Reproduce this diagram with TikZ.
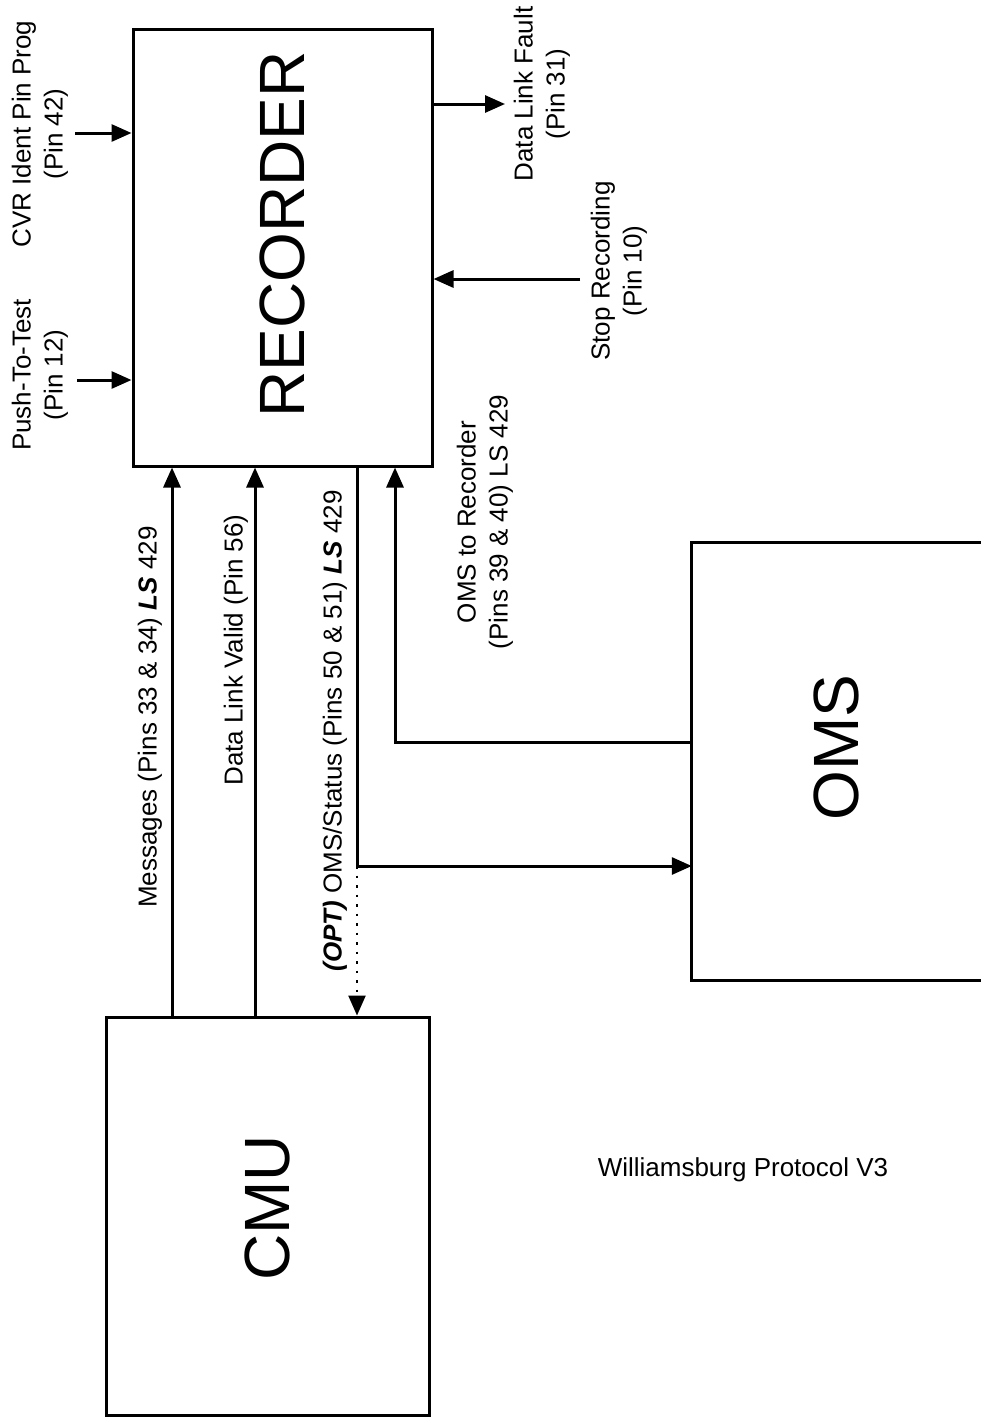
\documentclass[tikz,border=0pt]{standalone}
\usepackage{fontspec}
\setmainfont{Liberation Sans}
\usetikzlibrary{arrows.meta}

\begin{document}
\begin{tikzpicture}[x=1pt, y=-1pt,
    block/.style={draw, line width=3pt, inner sep=0pt},
    sig/.style={line width=3pt, -{Triangle[length=20pt, width=17pt]}},
    lbl/.style={rotate=90, align=center, font=\fontsize{26}{32}\selectfont},
    big/.style={font=\fontsize{64}{70}\selectfont}]
    % Page frame
    \useasboundingbox (0,0) rectangle (981,1417);

    % Blocks
    \node[block, big, minimum width=299pt, minimum height=437pt] (rec) at (282.5,247.5) {\rotatebox{90}{\hspace{26pt}RECORDER}};
    \node[block, big, minimum width=323pt, minimum height=398pt] (cmu) at (267.5,1216) {\rotatebox{90}{\hspace{16pt}CMU}};
    \node[big, inner sep=0pt, minimum width=289pt, minimum height=437pt] (oms) at (836.5,761.5) {\rotatebox{90}{\hspace{28pt}OMS}};
    \draw[line width=3pt] (oms.north east) -- (oms.north west) -- (oms.south west) -- (oms.south east);

    % Pin coordinates
    \coordinate (cvr) at (75,133);
    \coordinate (ptt) at (77,380);
    \coordinate (dlf) at (505,104);
    \coordinate (stop) at (580,279);
    \coordinate (msgx) at (172,0);
    \coordinate (dlvx) at (255,0);
    \coordinate (stx) at (357,0);
    \coordinate (sty) at (0,866);
    \coordinate (omsx) at (395,0);
    \coordinate (omsy) at (0,742);

    % Discrete pins
    \draw[sig] (cvr) -- (rec.west |- cvr);
    \draw[sig] (ptt) -- (rec.west |- ptt);
    \draw[sig] (rec.east |- dlf) -- (dlf);
    \draw[sig] (stop) -- (rec.east |- stop);

    % CMU to recorder
    \draw[sig] (cmu.north -| msgx) -- (rec.south -| msgx);
    \draw[sig] (cmu.north -| dlvx) -- (rec.south -| dlvx);

    % Recorder to OMS and back
    \draw[sig] (rec.south -| stx) |- (oms.west |- sty);
    \draw[sig, line width=2.5pt, dash pattern=on 2.5pt off 7pt] (stx |- sty) -- (cmu.north -| stx);
    \draw[sig] (oms.west |- omsy) -| (rec.south -| omsx);

    % Labels
    \node[lbl] (cvrlbl) at (40,134) {CVR Ident Pin Prog\\(Pin 42)};
    \node[lbl] (pttlbl) at (40,375) {Push-To-Test\\(Pin 12)};
    \node[lbl] (dlflbl) at (542,94) {Data Link Fault\\(Pin 31)};
    \node[lbl] (stoplbl) at (619,271) {Stop Recording\\(Pin 10)};
    \node[lbl] (omsreclbl) at (485,522) {OMS to Recorder\\(Pins 39 \& 40) LS 429};
    \node[lbl] (msglbl) at (150,717) {Messages (Pins 33 \& 34) \textbf{\textit{LS}} 429};
    \node[lbl] (dlvlbl) at (236,650) {Data Link Valid (Pin 56)};
    \node[lbl] (stlbl) at (335,731) {\textbf{\textit{(OPT)}} OMS/Status (Pins 50 \& 51) \textbf{\textit{LS}} 429};
    \node[font=\fontsize{26}{32}\selectfont] (title) at (743,1170) {Williamsburg Protocol V3};
\end{tikzpicture}
\end{document}
